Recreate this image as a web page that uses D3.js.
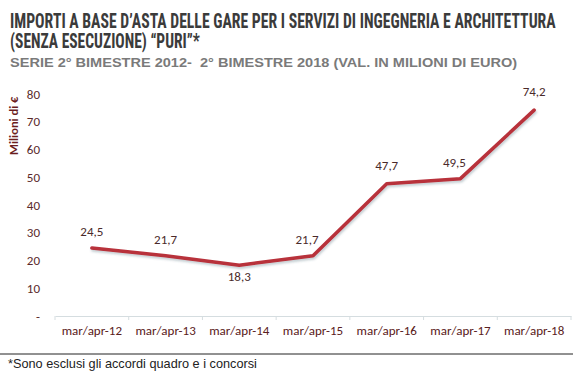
<!DOCTYPE html>
<html><head><meta charset="utf-8">
<script src="https://cdn.jsdelivr.net/npm/d3@7"></script>
<style>
body{margin:0;background:#fff;}
svg{display:block;}
</style></head>
<body>
<svg id="c" width="573" height="378"></svg>
<script>
const categories = ["mar/apr-12","mar/apr-13","mar/apr-14","mar/apr-15","mar/apr-16","mar/apr-17","mar/apr-18"];
const values = [24.5, 21.7, 18.3, 21.7, 47.7, 49.5, 74.2];
const valueLabels = ["24,5","21,7","18,3","21,7","47,7","49,5","74,2"];
const yTicks = [0,10,20,30,40,50,60,70,80];
const yTickLabels = ["-","10","20","30","40","50","60","70","80"];

const svg = d3.select("#c");
const W = 573, H = 378;
const x = d3.scaleBand().domain(categories).range([55, 571]);
const y = d3.scaleLinear().domain([0, 80]).range([316, 94]);

const narrow = "'Liberation Sans Narrow', 'Roboto Condensed', 'DejaVu Sans Condensed', sans-serif";
const body = "Carlito, 'Open Sans', 'Noto Sans', sans-serif";

// text scaled horizontally to fit a target width (keeps real bbox)
function fitText(txt, x0, yb, width, size, family, weight, fill) {
  const t = svg.append("text").attr("x", 0).attr("y", 0)
    .attr("font-family", family).attr("font-weight", weight)
    .attr("font-size", size).attr("fill", fill)
    .style("white-space", "pre").text(txt);
  const w = t.node().getComputedTextLength();
  const s = width / w;
  t.attr("transform", `translate(${x0},${yb}) scale(${s},1)`);
  return t;
}

// Titles
fitText("IMPORTI A BASE D’ASTA DELLE GARE PER I SERVIZI DI INGEGNERIA E ARCHITETTURA", 10, 28, 546, 19.5, narrow, "bold", "#3b3b3b");
fitText("(SENZA ESECUZIONE) “PURI”*", 10, 48, 190, 19.5, narrow, "bold", "#3b3b3b");
fitText("SERIE 2° BIMESTRE 2012-  2° BIMESTRE 2018 (VAL. IN MILIONI DI EURO)", 10, 67, 508, 13.5, "'Liberation Sans', Arial, sans-serif", "bold", "#7a7a7a");

// Y axis labels
const gy = svg.append("g");
gy.selectAll("text").data(yTicks).join("text")
  .attr("x", 40).attr("y", d => y(d)).attr("dy", "0.35em")
  .attr("text-anchor", "end")
  .attr("font-family", body).attr("font-size", 13)
  .attr("fill", "#5a2a2a")
  .text((d, i) => yTickLabels[i]);

svg.append("text")
  .attr("transform", `translate(18, ${(y(80)+y(60))/2+4}) rotate(-90)`)
  .attr("text-anchor", "middle")
  .attr("font-family", body).attr("font-weight", "bold")
  .attr("font-size", 12.5).attr("fill", "#6b1e1e")
  .text("Milioni di €");

// X axis
const xAxis = d3.axisBottom(x).tickSize(0).tickPadding(10);
const gx = svg.append("g").attr("transform", `translate(0, ${y(0)})`).call(xAxis);
gx.select(".domain").attr("stroke", "#d5dde0").attr("stroke-width", 1);
gx.selectAll(".tick text")
  .attr("font-family", body).attr("font-size", 13)
  .attr("fill", "#5a2020");
const bounds = categories.map(c => x(c)).concat([x.range()[1]]);
gx.selectAll(".bt").data(bounds).join("line").attr("class", "bt")
  .attr("x1", d => d).attr("x2", d => d).attr("y1", 0).attr("y2", 4)
  .attr("stroke", "#d5dde0");

// Line
const line = d3.line()
  .x((d, i) => x(categories[i]) + x.bandwidth()/2)
  .y(d => y(d));
const defs = svg.append("defs");
const f = defs.append("filter").attr("id", "sh").attr("x", "-10%").attr("y", "-10%").attr("width", "130%").attr("height", "130%");
f.append("feDropShadow").attr("dx", 1).attr("dy", 2).attr("stdDeviation", 1.2).attr("flood-color", "#406070").attr("flood-opacity", 0.3);
svg.append("path").datum(values).attr("d", line)
  .attr("fill", "none").attr("stroke", "#b8303a").attr("stroke-width", 3.5)
  .attr("stroke-linejoin", "round").attr("stroke-linecap", "round")
  .attr("filter", "url(#sh)");

// Data labels
const offsets = [[0,-12],[0,-12],[0,16],[-6,-12],[0,-14],[-6,-12],[0,-14]];
svg.selectAll(".lbl").data(values).join("text").attr("class", "lbl")
  .attr("x", (d, i) => x(categories[i]) + x.bandwidth()/2 + offsets[i][0])
  .attr("y", (d, i) => y(d) + offsets[i][1])
  .attr("text-anchor", "middle")
  .attr("font-family", body).attr("font-size", 13)
  .attr("fill", "#4a2a2a")
  .text((d, i) => valueLabels[i]);

// Footer
svg.append("line").attr("x1", 0).attr("x2", W).attr("y1", 354).attr("y2", 354)
  .attr("stroke", "#222").attr("stroke-width", 1);
fitText("*Sono esclusi gli accordi quadro e i concorsi", 8, 368, 249, 12.5, "'Liberation Sans Narrow', 'Liberation Sans', Arial, sans-serif", "normal", "#222");
</script>
</body></html>
